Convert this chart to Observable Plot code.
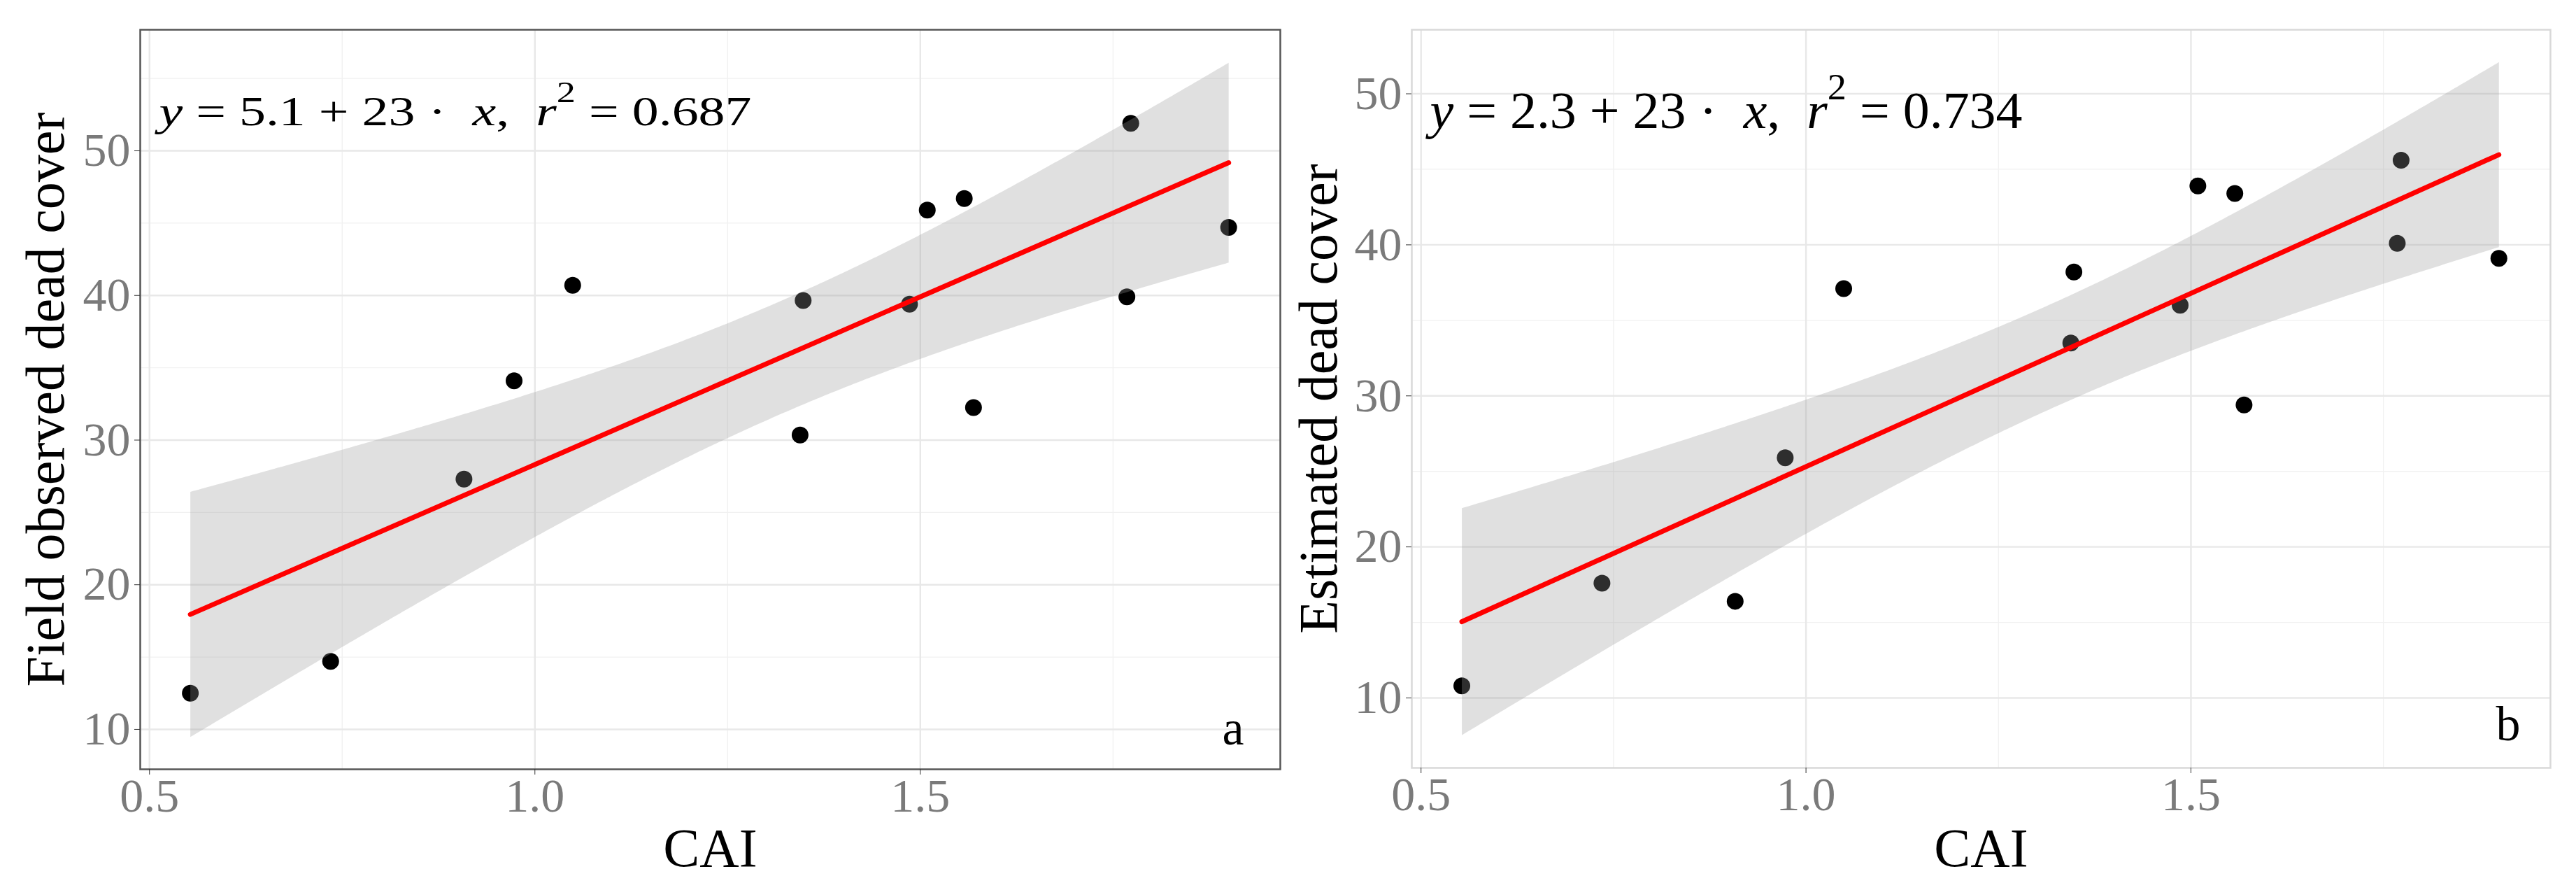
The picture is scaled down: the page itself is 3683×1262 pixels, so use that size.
<!DOCTYPE html>
<html>
<head>
<meta charset="utf-8">
<script src="https://cdn.jsdelivr.net/npm/d3@7"></script>
<script src="https://cdn.jsdelivr.net/npm/@observablehq/plot@0.6"></script>
<style>
  html, body { margin: 0; padding: 0; background: #fff; }
  #wrap { position: relative; width: 3683px; height: 1262px; background: #fff; overflow: hidden; }
  #panelA { position: absolute; left: 0; top: 0; }
  #panelB { position: absolute; left: 1840px; top: 0; }
  svg { font-family: "Liberation Serif", "Times New Roman", serif; }
</style>
</head>
<body>
<div id="wrap"><div id="panelA"></div><div id="panelB"></div></div>
<script>
// ---- data ----
const cai = [0.553, 0.735, 0.908, 0.973, 1.049, 1.344, 1.348, 1.486, 1.509, 1.557, 1.569, 1.768, 1.773, 1.900];
const fieldObserved = [12.5, 14.7, 27.3, 34.1, 40.7, 30.35, 39.65, 39.4, 45.9, 46.7, 32.25, 39.9, 51.9, 44.7];
const estimated = [10.8, 17.6, 16.4, 25.9, 37.1, 33.5, 38.2, 36.0, 43.9, 43.4, 29.4, 40.1, 45.6, 39.1];

const xTicks = [0.5, 1.0, 1.5];
const xMinor = [0.75, 1.25, 1.75];
const yTicks = [10, 20, 30, 40, 50];
const yMinorA = [15, 25, 35, 45, 55];
const yMinorB = [15, 25, 35, 45];

const yTitles = ["Field observed dead cover", "Estimated dead cover"];
const xTitle = "CAI";
const panelTags = ["a", "b"];
const intercepts = ["5.1", "2.3"];
const slopes = ["23", "23"];
const r2s = ["0.687", "0.734"];

function makePanel(cfg) {
  const data = cai.map((x, i) => ({x, y: cfg.y[i]}));
  const svg = Plot.plot({
    width: cfg.width,
    height: 1262,
    marginTop: 42,
    marginLeft: cfg.marginLeft,
    marginRight: cfg.marginRight,
    marginBottom: cfg.marginBottom,
    style: {fontFamily: "'Liberation Serif', 'Times New Roman', serif", background: "white", overflow: "visible"},
    x: {domain: [0.488, 1.967]},
    y: {domain: cfg.yDomain},
    marks: [
      Plot.gridX(xMinor, {stroke: "#f1f1f1", strokeOpacity: 1, strokeWidth: 1.3}),
      Plot.gridY(cfg.yMinor, {stroke: "#f1f1f1", strokeOpacity: 1, strokeWidth: 1.3}),
      Plot.gridX(xTicks, {stroke: "#e8e8e8", strokeOpacity: 1, strokeWidth: 2.4}),
      Plot.gridY(yTicks, {stroke: "#e8e8e8", strokeOpacity: 1, strokeWidth: 2.4}),
      Plot.dot(data, {x: "x", y: "y", r: 12, fill: "#000", stroke: null}),
      Plot.linearRegressionY(data, {x: "x", y: "y", stroke: "#ff0000", strokeWidth: 7, fill: "#999", fillOpacity: 0.3, ci: 0.95}),
      Plot.frame({stroke: cfg.frameColor, strokeWidth: 2.5}),
      Plot.axisX(xTicks, {tickSize: 8, tickPadding: 4, fontSize: 68, stroke: "#333", fill: "#7a7a7a", tickFormat: d3.format(".1f"), label: null}),
      Plot.axisY(yTicks, {tickSize: 8, tickPadding: 6, fontSize: 68, stroke: "#333", fill: "#7a7a7a", label: null}),
      Plot.text([xTitle], {frameAnchor: "bottom", dy: cfg.xTitleDy, lineAnchor: "bottom", fontSize: 78, fill: "#000"}),
      Plot.text([cfg.yTitle], {frameAnchor: "left", dx: cfg.yTitleDx, rotate: -90, lineAnchor: "bottom", textAnchor: "middle", fontSize: 78, fill: "#000"}),
      Plot.text([cfg.tag], {frameAnchor: "bottom-right", dx: cfg.tagDx, dy: cfg.tagDy, lineAnchor: "bottom", textAnchor: "end", fontSize: 70, fill: "#000"}),
      Plot.text([`y = ${cfg.intercept} + ${cfg.slope} · x, r2 = ${cfg.r2}`], {frameAnchor: "top-left", dx: cfg.eqDx, dy: cfg.eqDy, lineAnchor: "bottom", textAnchor: "start", fontSize: cfg.eqSize, fill: "#000", className: "eq"})
    ]
  });
  // rebuild equation with italic variables and superscript
  const t = d3.select(svg).select("g.eq text");
  t.text(null).style("white-space", "pre");
  const fs = cfg.eqSize, sup = Math.round(fs * 0.72), shift = Math.round(fs * 0.55);
  t.append("tspan").attr("font-style", "italic").text("y");
  t.append("tspan").text(` = ${cfg.intercept} + ${cfg.slope} ·  `);
  t.append("tspan").attr("font-style", "italic").text("x");
  t.append("tspan").text(",  ");
  t.append("tspan").attr("font-style", "italic").text("r");
  t.append("tspan").attr("font-size", sup).attr("dy", -shift).text("2");
  t.append("tspan").attr("font-size", fs).attr("dy", shift).text(` = ${cfg.r2}`);
  t.attr("textLength", cfg.eqLen).attr("lengthAdjust", "spacingAndGlyphs");
  return svg;
}

document.getElementById("panelA").appendChild(makePanel({
  y: fieldObserved, width: 1840, marginLeft: 200, marginRight: 10, marginBottom: 163,
  yDomain: [7.24, 58.37], yMinor: yMinorA, frameColor: "#555",
  yTitle: yTitles[0], yTitleDx: -110, xTitleDy: 138,
  tag: panelTags[0], tagDx: -52, tagDy: -36,
  intercept: intercepts[0], slope: slopes[0], r2: r2s[0],
  eqDx: 27, eqDy: 136, eqSize: 60, eqLen: 847
}));
document.getElementById("panelB").appendChild(makePanel({
  y: estimated, width: 1843, marginLeft: 178, marginRight: 37, marginBottom: 165,
  yDomain: [5.37, 54.24], yMinor: yMinorB, frameColor: "#d9d9d9",
  yTitle: yTitles[1], yTitleDx: -108, xTitleDy: 140,
  tag: panelTags[1], tagDx: -43, tagDy: -40,
  intercept: intercepts[1], slope: slopes[1], r2: r2s[1],
  eqDx: 26, eqDy: 140, eqSize: 74, eqLen: 847
}));
</script>
</body>
</html>
